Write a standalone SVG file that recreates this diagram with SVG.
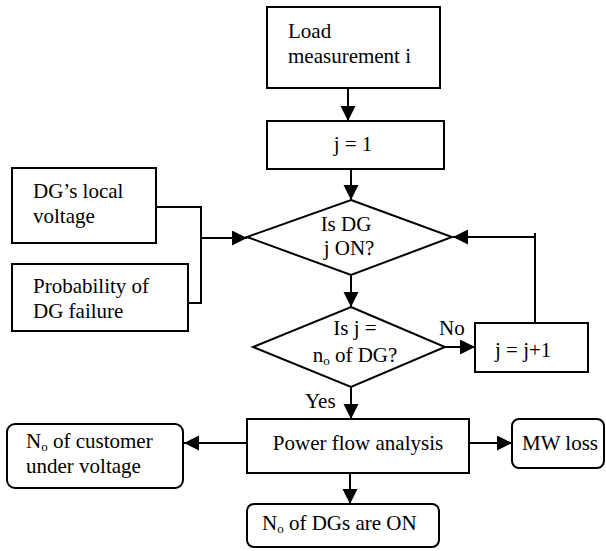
<svg xmlns="http://www.w3.org/2000/svg" width="606" height="551" viewBox="0 0 606 551">
<style>
.box{fill:#fff;stroke:#000;stroke-width:2}
.ln{fill:none;stroke:#000;stroke-width:2}
.t{font-family:"Liberation Serif","Times New Roman",serif;font-size:21px;fill:#000}
.c{text-anchor:middle}
.sub{font-size:13px}
</style>
<defs>
<marker id="ah" markerUnits="userSpaceOnUse" markerWidth="16" markerHeight="16" refX="15" refY="7.5" orient="auto">
<path d="M0,0 L15,7.5 L0,15 z" fill="#000"/>
</marker>
</defs>
<rect width="606" height="551" fill="#fff"/>
<g id="connectors">
<path class="ln" d="M348,88 V121" marker-end="url(#ah)"/>
<path class="ln" d="M351,169 V200" marker-end="url(#ah)"/>
<path class="ln" d="M351,275 V307" marker-end="url(#ah)"/>
<path class="ln" d="M351,387 V419" marker-end="url(#ah)"/>
<path class="ln" d="M445,347 H475" marker-end="url(#ah)"/>
<path class="ln" d="M535,323 V233"/>
<path class="ln" d="M535,237 H453" marker-end="url(#ah)"/>
<path class="ln" d="M156,207 H201 V303 H188"/>
<path class="ln" d="M201,238 H247" marker-end="url(#ah)"/>
<path class="ln" d="M247,443 H184" marker-end="url(#ah)"/>
<path class="ln" d="M469,443 H512" marker-end="url(#ah)"/>
<path class="ln" d="M350,473 V504" marker-end="url(#ah)"/>
<text class="t" x="439" y="335">No</text>
<text class="t" x="305" y="408">Yes</text>
</g>
<g id="load">
<rect class="box" x="267" y="7" width="173" height="81"/>
<text class="t" x="288" y="38">Load</text>
<text class="t" x="288" y="63">measurement i</text>
</g>
<g id="j1">
<rect class="box" x="267" y="121" width="177" height="48"/>
<text class="t c" x="353" y="151">j = 1</text>
</g>
<g id="dg-local">
<rect class="box" x="12" y="168" width="144" height="75"/>
<text class="t" x="33" y="198">DG’s local</text>
<text class="t" x="33" y="223">voltage</text>
</g>
<g id="prob">
<rect class="box" x="12" y="264" width="176" height="67"/>
<text class="t" x="33" y="293">Probability of</text>
<text class="t" x="33" y="318">DG failure</text>
</g>
<g id="d1">
<polygon class="box" points="351,200 452,237 351,275 247,237"/>
<text class="t c" x="346" y="231">Is DG</text>
<text class="t c" x="349" y="255">j ON?</text>
</g>
<g id="d2">
<polygon class="box" points="351,307 445,347 351,387 253,347"/>
<text class="t c" x="355" y="335">Is j =</text>
<text class="t c" x="355" y="362">n<tspan class="sub" dy="3">o</tspan><tspan dy="-3"> of DG?</tspan></text>
</g>
<g id="jj1">
<rect class="box" x="475" y="323" width="113" height="49"/>
<text class="t" x="495" y="357">j = j+1</text>
</g>
<g id="power">
<rect class="box" x="247" y="419" width="222" height="54"/>
<text class="t c" x="358" y="450">Power flow analysis</text>
</g>
<g id="customer">
<rect class="box" x="7" y="424" width="176" height="64" rx="8"/>
<text class="t" x="26" y="448">N<tspan class="sub" dy="3">o</tspan><tspan dy="-3"> of customer</tspan></text>
<text class="t" x="26" y="473">under voltage</text>
</g>
<g id="mwloss">
<rect class="box" x="512" y="419" width="92" height="49" rx="7"/>
<text class="t" x="522" y="450">MW loss</text>
</g>
<g id="dgs-on">
<rect class="box" x="247" y="504" width="192" height="43" rx="7"/>
<text class="t" x="262" y="530">N<tspan class="sub" dy="3">o</tspan><tspan dy="-3"> of DGs are ON</tspan></text>
</g>
</svg>
